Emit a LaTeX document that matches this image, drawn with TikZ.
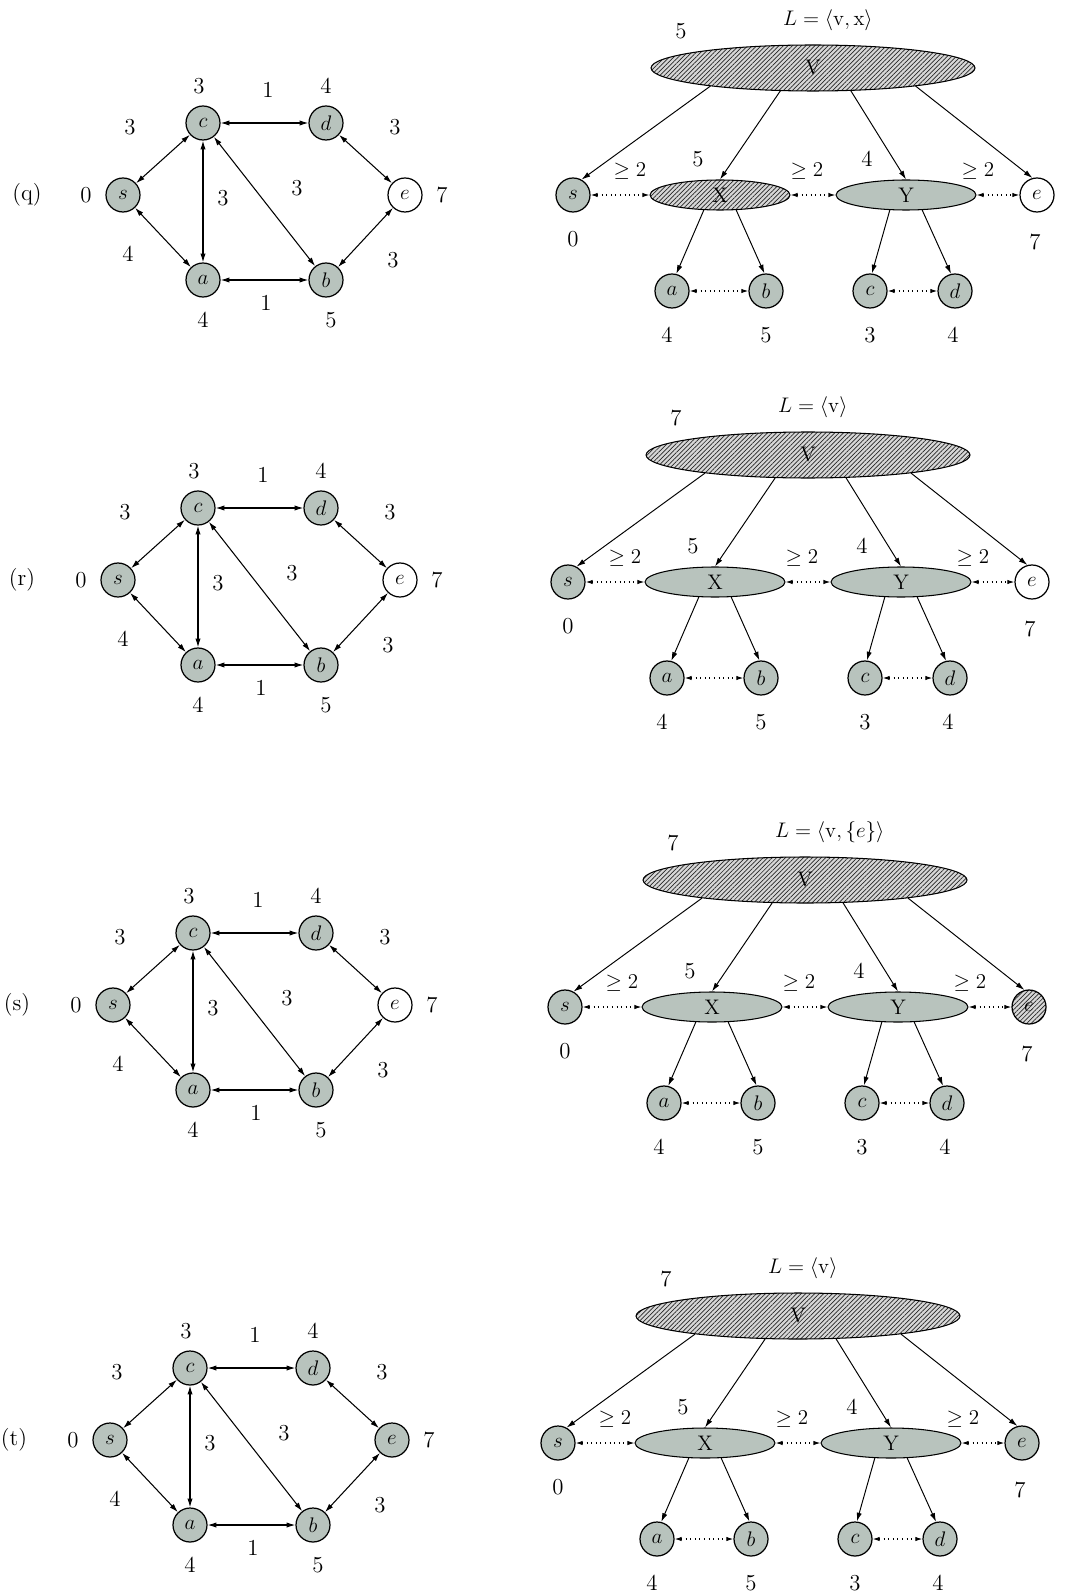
\documentclass[tikz,border=0pt]{standalone}
\usetikzlibrary{shapes.geometric,arrows.meta,patterns.meta,calc}
\definecolor{tealgray}{RGB}{184,195,189}
\definecolor{hatchbg}{RGB}{215,215,215}
\tikzset{
  fs/.style={font=\fontsize{13}{15}\selectfont},
  vtx/.style={circle, draw, line width=0.7pt, minimum size=0.68cm, inner sep=0pt, fs},
  gfill/.style={fill=tealgray},
  wfill/.style={fill=white},
  hfill/.style={preaction={fill=hatchbg}, pattern={Lines[angle=45,distance=1.8pt,line width=0.4pt]}, pattern color=black!85},
  lbl/.style={fs, inner sep=1pt},
  bidir/.style={{Latex[length=5pt,width=3pt]}-{Latex[length=5pt,width=3pt]}, line width=0.6pt},
  treearrow/.style={-{Latex[length=5pt,width=3pt]}, line width=0.55pt},
  dotarrow/.style={dotted, line width=0.6pt, {Latex[length=4pt,width=2.5pt]}-{Latex[length=4pt,width=2.5pt]}},
  bigell/.style={ellipse, draw, line width=0.6pt, minimum width=6.48cm, minimum height=0.92cm, inner sep=0pt, font=\fontsize{12}{14}\selectfont},
  smallell/.style={ellipse, draw, line width=0.6pt, minimum width=2.8cm, minimum height=0.6cm, inner sep=0pt, font=\fontsize{12}{14}\selectfont},
}
% #1 letter, #2 #3 left origin, #4 #5 right origin, #6 top number, #7 L text, #8 left e style, #9 X style; \REstyle right e style
\newcommand\drawpanel[9]{%
\begin{scope}[shift={(#2,#3)}]
  \node[lbl] (L#1lab) at (-96,0) {(#1)};
  \node[vtx,gfill] (L#1s) at (0,0) {$s$};
  \node[vtx,gfill] (L#1c) at (80,-72) {$c$};
  \node[vtx,gfill] (L#1d) at (203,-72) {$d$};
  \node[vtx,#8] (L#1e) at (282,0) {$e$};
  \node[vtx,gfill] (L#1a) at (80,85) {$a$};
  \node[vtx,gfill] (L#1b) at (203,85) {$b$};
  \draw[bidir] (L#1s) -- (L#1c);
  \draw[bidir] (L#1s) -- (L#1a);
  \draw[bidir] (L#1c) -- (L#1a);
  \draw[bidir] (L#1c) -- (L#1d);
  \draw[bidir] (L#1c) -- (L#1b);
  \draw[bidir] (L#1a) -- (L#1b);
  \draw[bidir] (L#1d) -- (L#1e);
  \draw[bidir] (L#1b) -- (L#1e);
  \node[lbl] (L#1w1) at (7,-68) {3};
  \node[lbl] (L#1w2) at (5,59) {4};
  \node[lbl] (L#1w3) at (100,3) {3};
  \node[lbl] (L#1w4) at (174,-7) {3};
  \node[lbl] (L#1w5) at (145,-105) {1};
  \node[lbl] (L#1w6) at (143,108) {1};
  \node[lbl] (L#1w7) at (272,-68) {3};
  \node[lbl] (L#1w8) at (270,65) {3};
  \node[lbl] (L#1ds) at (-37,0) {0};
  \node[lbl] (L#1de) at (319,0) {7};
  \node[lbl] (L#1dc) at (76,-109) {3};
  \node[lbl] (L#1dd) at (203,-109) {4};
  \node[lbl] (L#1da) at (80,125) {4};
  \node[lbl] (L#1db) at (208,125) {5};
\end{scope}
\begin{scope}[shift={(#4,#5)}]
  \node[bigell,hfill] (R#1V) at (240,-127) {V};
  \node[vtx,gfill] (R#1s) at (0,0) {$s$};
  \node[smallell,#9] (R#1X) at (147,0) {X};
  \node[smallell,gfill] (R#1Y) at (333,0) {Y};
  \node[vtx,\REstyle] (R#1e) at (464,0) {$e$};
  \node[vtx,gfill] (R#1a) at (99,96) {$a$};
  \node[vtx,gfill] (R#1b) at (193,96) {$b$};
  \node[vtx,gfill] (R#1c) at (297,96) {$c$};
  \node[vtx,gfill] (R#1d) at (382,96) {$d$};
  \draw[treearrow] (R#1V.190) -- (R#1s.61);
  \draw[treearrow] (R#1V.215) -- (R#1X.north);
  \draw[treearrow] (R#1V.329) -- (R#1Y.north);
  \draw[treearrow] (R#1V.350) -- (R#1e.105);
  \draw[treearrow] (R#1X.223) -- (R#1a.76);
  \draw[treearrow] (R#1X.317) -- (R#1b.95);
  \draw[treearrow] (R#1Y.223) -- (R#1c.84);
  \draw[treearrow] (R#1Y.317) -- (R#1d.103);
  \draw[dotarrow] (R#1s) -- (R#1X);
  \draw[dotarrow] (R#1X) -- (R#1Y);
  \draw[dotarrow] (R#1Y) -- (R#1e);
  \draw[dotarrow] (R#1a) -- (R#1b);
  \draw[dotarrow] (R#1c) -- (R#1d);
  \node[lbl,anchor=west] (R#1L) at (208,-175) {#7};
  \node[lbl] (R#1top) at (108,-164) {#6};
  \node[lbl] (R#1g1) at (57,-24) {$\geq 2$};
  \node[lbl] (R#1g2) at (234,-24) {$\geq 2$};
  \node[lbl] (R#1g3) at (405,-24) {$\geq 2$};
  \node[lbl] (R#1nx) at (125,-36) {5};
  \node[lbl] (R#1ny) at (294,-36) {4};
  \node[lbl] (R#1ds) at (0,44) {0};
  \node[lbl] (R#1de) at (462,47) {7};
  \node[lbl] (R#1da) at (94,140) {4};
  \node[lbl] (R#1db) at (193,140) {5};
  \node[lbl] (R#1dc) at (297,140) {3};
  \node[lbl] (R#1dd) at (380,140) {4};
\end{scope}}
\begin{document}
\begin{tikzpicture}[x=0.02cm,y=-0.02cm]
  \fill[white] (0,0) rectangle (1075,1594);
  \useasboundingbox (0,0) rectangle (1075,1594);
  \def\REstyle{wfill}
  \drawpanel{q}{123}{195}{573}{195}{5}{$L = \langle \mathrm{v}, \mathrm{x}\rangle$}{wfill}{hfill}
  \def\REstyle{wfill}
  \drawpanel{r}{118}{580}{568}{582}{7}{$L = \langle \mathrm{v}\rangle$}{wfill}{gfill}
  \def\REstyle{hfill}
  \drawpanel{s}{113}{1005}{565}{1007}{7}{$L = \langle \mathrm{v}, \{e\}\rangle$}{wfill}{gfill}
  \def\REstyle{gfill}
  \drawpanel{t}{110}{1440}{558}{1443}{7}{$L = \langle \mathrm{v}\rangle$}{gfill}{gfill}
\end{tikzpicture}
\end{document}
